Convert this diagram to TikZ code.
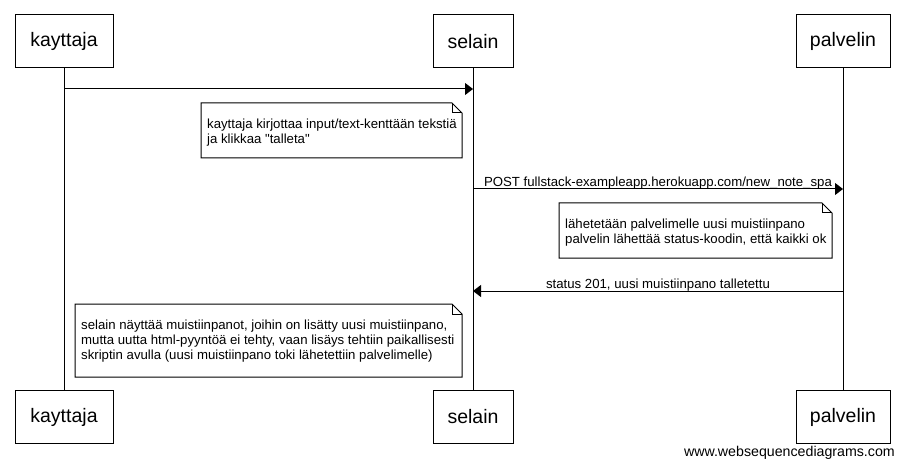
\documentclass[tikz,border=0pt]{standalone}
\usepackage{fontspec}
\setmainfont{Liberation Sans}[Ligatures=TeXOff]
\usetikzlibrary{arrows.meta}

\tikzset{
  actor/.style={draw, line width=1pt, minimum height=53pt, inner sep=0pt, font=\fontsize{19.5}{23}\selectfont},
  lifeline/.style={line width=1pt},
  msg/.style={line width=1pt, -{Triangle[length=8pt, width=12pt]}},
  msglabel/.style={font=\fontsize{13.2}{15}\selectfont, inner sep=0pt, anchor=base, yshift=3pt},
  notetext/.style={align=left, anchor=north west, inner sep=0pt, font=\fontsize{13.2}{15}\selectfont},
}

% note with folded corner: name, top-left, bottom-right, text
\newcommand{\notebox}[4]{%
  \draw[line width=1pt] (#2) -- ([xshift=-10pt]#2 -| #3) coordinate (#1_f)
    -- ([yshift=-10pt]#2 -| #3) -- (#3) -- (#2 |- #3) -- cycle;
  \draw[line width=1pt] (#1_f) -- ++(0,10) -- ++(10,0);
  \node[notetext] (#1) at ([xshift=6pt, yshift=-16pt]#2) {#4};
}

\begin{document}
\begin{tikzpicture}[x=1pt, y=-1pt]
\useasboundingbox (0,0) rectangle (903,468);

%% actors
\node[actor, minimum width=98pt] (kayttaja_top) at (64,41.5) {kayttaja};
\node[actor, minimum width=80pt] (selain_top) at (473,41.5) {selain};
\node[actor, minimum width=94pt] (palvelin_top) at (843,41.5) {palvelin};

\node[actor, minimum width=98pt] (kayttaja_bot) at (64,417) {kayttaja};
\node[actor, minimum width=80pt] (selain_bot) at (473,417) {selain};
\node[actor, minimum width=94pt] (palvelin_bot) at (843,417) {palvelin};

\draw[lifeline] (kayttaja_top) -- (kayttaja_bot);
\draw[lifeline] (selain_top) -- (selain_bot);
\draw[lifeline] (palvelin_top) -- (palvelin_bot);

%% messages
\coordinate (m1_from) at (kayttaja_top |- 0,89);
\coordinate (m1_to) at (selain_top |- 0,89);
\draw[msg] (m1_from) -- (m1_to);

\coordinate (n1_tl) at (201,103);
\coordinate (n1_br) at (462,158);
\notebox{note_input}{n1_tl}{n1_br}{kayttaja kirjottaa input/text-kenttään tekstiä\\ja klikkaa "talleta"}

\coordinate (m2_from) at (selain_top |- 0,189);
\coordinate (m2_to) at (palvelin_top |- 0,189);
\draw[msg] (m2_from) -- node[msglabel] (post_label) {POST fullstack-exampleapp.herokuapp.com/new\_note\_spa} (m2_to);

\coordinate (n2_tl) at (559,203);
\coordinate (n2_br) at (832,258);
\notebox{note_server}{n2_tl}{n2_br}{lähetetään palvelimelle uusi muistiinpano\\palvelin lähettää status-koodin, että kaikki ok}

\coordinate (m3_from) at (palvelin_top |- 0,291);
\coordinate (m3_to) at (selain_top |- 0,291);
\draw[msg] (m3_from) -- node[msglabel] (status_label) {status 201, uusi muistiinpano talletettu} (m3_to);

\coordinate (n3_tl) at (75,304);
\coordinate (n3_br) at (462,377);
\notebox{note_render}{n3_tl}{n3_br}{selain näyttää muistiinpanot, joihin on lisätty uusi muistiinpano,\\mutta uutta html-pyyntöä ei tehty, vaan lisäys tehtiin paikallisesti\\skriptin avulla (uusi muistiinpano toki lähetettiin palvelimelle)}

\node[font=\fontsize{14.2}{16}\selectfont, anchor=east, inner sep=0pt] (wsd) at (895,453) {www.websequencediagrams.com};
\end{tikzpicture}
\end{document}
